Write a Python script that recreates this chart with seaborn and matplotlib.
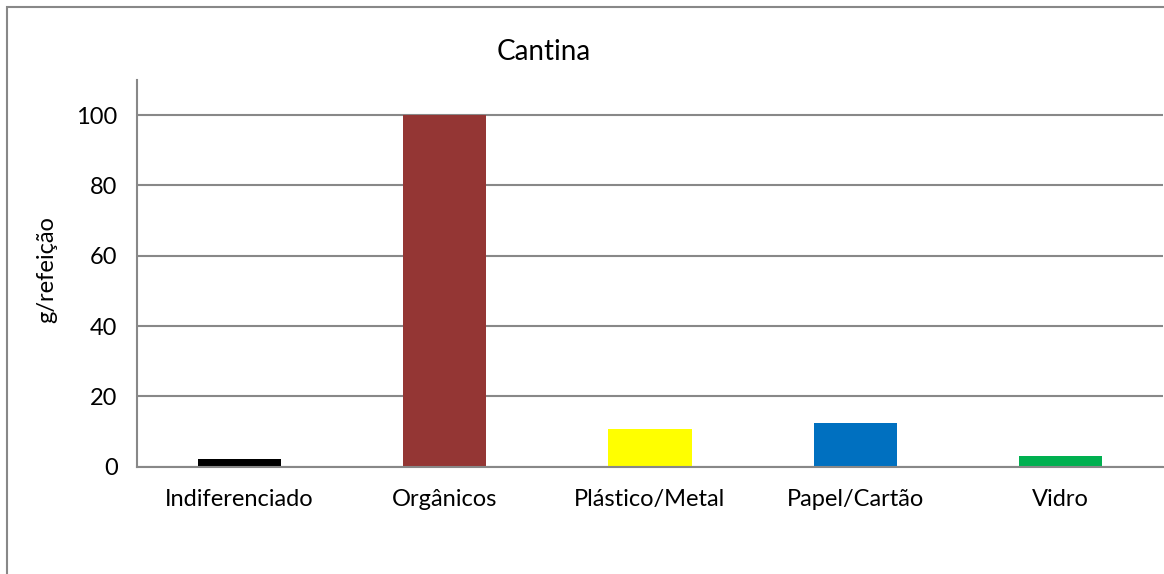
import matplotlib
matplotlib.use("Agg")
import matplotlib.pyplot as plt
import seaborn as sns
import pandas as pd
from matplotlib.patches import Rectangle

categorias = ["Indiferenciado", "Orgânicos", "Plástico/Metal", "Papel/Cartão", "Vidro"]
valores = [2.2, 100.0, 10.7, 12.4, 3.0]
cores = ["#000000", "#943634", "#FFFF00", "#0070C0", "#00B050"]

df = pd.DataFrame({"cat": categorias, "val": valores})

sns.set_style("white")
plt.rcParams["font.family"] = ["Lato", "DejaVu Sans"]
plt.rcParams["text.color"] = "black"
plt.rcParams["xtick.labelcolor"] = "black"
plt.rcParams["ytick.labelcolor"] = "black"

fig = plt.figure(figsize=(11.64, 5.74), dpi=100)
ax = fig.add_axes([137 / 1164, 1 - 466.7 / 574, (1163 - 137) / 1164, (466.7 - 80) / 574])

sns.barplot(data=df, x="cat", y="val", hue="cat", palette=cores, legend=False,
            width=0.405, saturation=1, linewidth=0, ax=ax)

grid = "#888888"
ax.set_xlim(-0.5, 4.5)
ax.set_ylim(0, 110)
ax.set_yticks([0, 20, 40, 60, 80, 100])
ax.yaxis.grid(True, color=grid, linewidth=1.5)
ax.set_axisbelow(True)
ax.set_xticks([i - 0.5 for i in range(6)])
ax.set_xticklabels([])
ax.set_xticks(range(5), minor=True)
ax.set_xticklabels(categorias, minor=True, fontsize=17)
ax.tick_params(axis="x", which="minor", length=0, pad=16)
ax.tick_params(axis="x", which="major", length=7, width=1.5, color=grid, direction="out")
ax.tick_params(axis="y", length=8, width=1.5, color=grid, direction="out", labelsize=17, pad=6)
ax.set_xlabel("")
ax.set_ylabel("")
for s in ["top", "right"]:
    ax.spines[s].set_visible(False)
for s in ["left", "bottom"]:
    ax.spines[s].set_color(grid)
    ax.spines[s].set_linewidth(1.5)

fig.text(544 / 1164, 1 - 52 / 574, "Cantina", ha="center", va="center", fontsize=20)
fig.text(47 / 1164, 1 - 270 / 574, "g/refeição", ha="center", va="center",
         rotation=90, fontsize=17)

fig.patches.append(Rectangle((7 / 1164, -0.05), 1.2, 1 - 7 / 574 + 0.05,
                             transform=fig.transFigure, fill=False,
                             edgecolor=grid, linewidth=1.5))

fig.savefig("out.png", dpi=100)
